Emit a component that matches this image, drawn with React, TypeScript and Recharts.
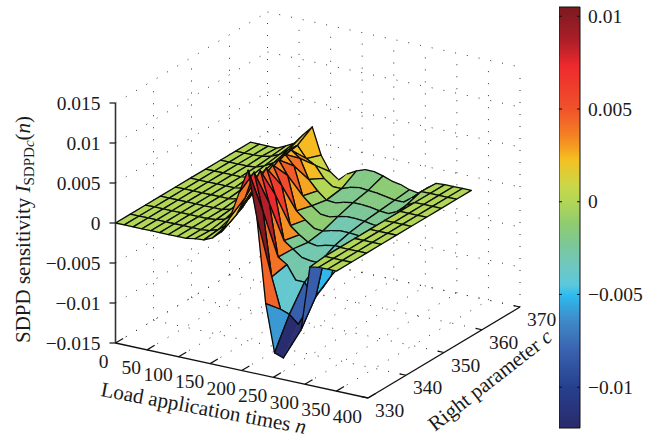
import { Bar, BarChart, Scatter, ScatterChart, XAxis, YAxis } from "recharts";

const FONT = '"Liberation Serif", serif';
const WIDTH = 659;
const HEIGHT = 441;

const nTicks = [0, 50, 100, 150, 200, 250, 300, 350, 400];
const cTicks = [330, 340, 350, 360, 370];
const zTicks = [-0.015, -0.01, -0.005, 0, 0.005, 0.01, 0.015];
const barTicks = [-0.01, -0.005, 0, 0.005, 0.01];

// surface grid, z values below are in units of 1e-4
const nValues = [0, 14, 28, 42, 56, 70, 84, 98, 112, 126, 140, 154, 168, 182, 196, 210, 224, 238, 252, 266, 280, 294, 308, 322, 336, 350];
const cValues = [330, 333.9, 337.9, 341.8, 345.8, 349.7, 353.7, 357.6, 361.6, 365.5];

const row330 = [0, 0, 0, 0, 0, 0, 0, 0, 0, 2, 3, 8, 18, 39, 72, 102, 45, -60, -119, -123, -103, -83, -2, 0, 0, 0];
const row334 = [0, 0, 0, 0, 0, 0, 0, 0, 0, 1, 5, 13, 28, 52, 86, 40, -40, -78, -82, -92, -72, -52, 0, 0, 0, 0];
const row338 = [0, 0, 0, 0, 0, 0, 0, 0, 1, 4, 12, 24, 46, 74, 36, -29, -36, -53, -53, -70, -56, -38, 0, 0, 0, 0];
const row342 = [0, 0, 0, 0, 0, 0, 0, 0, 3, 10, 21, 40, 64, 33, -22, -30, -38, -40, -40, -40, -35, -28, 0, 0, 0, 0];
const row346 = [0, 0, 0, 0, 0, 0, 0, 2, 8, 18, 34, 54, 31, -17, -26, -33, -35, -32, -30, -30, -32, -30, 0, 0, 0, 0];
const row350 = [0, 0, 0, 0, 0, 0, 2, 7, 15, 30, 47, 30, -12, -21, -29, -30, -27, -25, -25, -26, -28, -22, 0, 0, 0, 0];
const row354 = [0, 0, 0, 0, 0, 2, 6, 13, 26, 40, 28, -7, -17, -25, -26, -23, -21, -21, -22, -24, -24, -14, 0, 0, 0, 0];
const row358 = [0, 0, 0, 0, 1, 5, 11, 21, 32, 24, 0, -12, -21, -22, -19, -17, -17, -18, -20, -21, -16, -6, 0, 0, 0, 0];
const row362 = [0, 0, 0, 1, 3, 8, 16, 24, 10, 4, -10, -18, -18, -14, -12, -13, -14, -16, -18, -18, -10, 0, 0, 0, 0, 0];
const row366 = [0, 0, 0, 0, 5, 11, 24, 36, 3, -15, -23, -13, -7, -3, -3, -6, -10, -12, -16, -18, -9, -1, 0, 0, 0, 0];
const zRows = [row330, row334, row338, row342, row346, row350, row354, row358, row362, row366];

// colormap
const barMin = -0.0122;
const barMax = 0.0105;
const colorValues = [-0.0122, -0.01, -0.008, -0.0064, -0.005, -0.0045, -0.0035, -0.0024, -0.00124, 0, 0.0008, 0.0023, 0.003, 0.0037, 0.005, 0.0073, 0.00876, 0.0105];
const colorHex = ["#2a2a6a", "#26408f", "#3a62b0", "#3f8ac8", "#2dbdf0", "#5cc8dc", "#6ec8c0", "#7ac79a", "#8ecb72", "#b2d656", "#c8d84a", "#f5c020", "#f59a22", "#f47d25", "#f0522a", "#ee2a2e", "#aa1e28", "#7a1a20"];

const toRgb = (hex: string) => [1, 3, 5].map((i) => parseInt(hex.slice(i, i + 2), 16));

function colorOf(v: number) {
  if (v <= colorValues[0]) return colorHex[0];
  for (let i = 1; i < colorValues.length; i++) {
    if (v <= colorValues[i]) {
      const t = (v - colorValues[i - 1]) / (colorValues[i] - colorValues[i - 1]);
      const a = toRgb(colorHex[i - 1]);
      const b = toRgb(colorHex[i]);
      return `rgb(${a.map((x, k) => Math.round(x + (b[k] - x) * t)).join(",")})`;
    }
  }
  return colorHex[colorHex.length - 1];
}

// orthographic view of the 3D box, result is in page pixels
function project(n: number, c: number, z: number) {
  return {
    x: 115.5 + n * 0.63125 + (c - 330) * 3.8,
    y: 343 + n * 0.1375 - (c - 330) * 2.275 - (z + 0.015) * 8000,
  };
}

// the valley behind the wall has a coarser mesh in the picture: only every 3rd n line shows
const inValley = (j: number, k: number) => k > 17 - j && k < 21;
const showsLine = (j: number, k: number) => !inValley(j, k) || k % 3 === 0;

// far cells first so nearer ones paint over them
const cells: any[] = [];
for (let j = cValues.length - 2; j >= 0; j--) {
  for (let k = 0; k < nValues.length - 1; k++) {
    const z = (a: number, b: number) => zRows[a][b] * 1e-4;
    const corners = [
      project(nValues[k], cValues[j], z(j, k)),
      project(nValues[k + 1], cValues[j], z(j, k + 1)),
      project(nValues[k + 1], cValues[j + 1], z(j + 1, k + 1)),
      project(nValues[k], cValues[j + 1], z(j + 1, k)),
    ];
    let anchor = k;
    while (!showsLine(j, anchor)) anchor--;
    cells.push({
      ...corners[0],
      corners,
      fill: colorOf(z(j, anchor)),
      left: showsLine(j, k),
      right: showsLine(j, k + 1),
    });
  }
}

const noMark = () => <g />;

function CellShape(props: any) {
  const { cx, cy, payload } = props;
  const [a, b, c, d] = payload.corners.map((p: any) => ({ x: cx + p.x - payload.x, y: cy + p.y - payload.y }));
  const pts = [a, b, c, d].map((p) => `${p.x},${p.y}`).join(" ");
  const edge = (p: Pt, q: Pt) => `M${p.x},${p.y}L${q.x},${q.y}`;
  const path = edge(a, b) + edge(d, c) + (payload.left ? edge(a, d) : "") + (payload.right ? edge(b, c) : "");
  return (
    <g>
      <polygon points={pts} fill={payload.fill} stroke={payload.fill} strokeWidth={0.6} />
      <path d={path} fill="none" stroke="#0a0a0a" strokeWidth={1.3} strokeLinecap="round" />
    </g>
  );
}

function LabelShape(props: any) {
  const { cx, cy, payload } = props;
  return (
    <text x={cx} y={cy} textAnchor={payload.anchor} fontFamily={FONT} fontSize={19.5} fill="#1a1a1a">
      {payload.label}
    </text>
  );
}

const fmt = (v: number) => (v < 0 ? "\u2212" : "") + String(Math.abs(v));

const nLabels = nTicks.map((n) => {
  const p = project(n, 330, -0.015);
  return { x: p.x - (n === 0 ? 7 : 6), y: p.y + 24.5, label: String(n), anchor: "end" };
});
const cLabels = cTicks.map((c) => {
  const p = project(400, c, -0.015);
  return { x: p.x + 7, y: p.y + 19, label: String(c), anchor: "start" };
});
const zLabels = zTicks.map((z) => {
  const p = project(0, 330, z);
  return { x: p.x - 15, y: p.y + 6.5, label: fmt(z), anchor: "end" };
});

type Pt = { x: number; y: number };

const seg = (key: string, a: Pt, b: Pt, stroke: string, strokeWidth: number, strokeDasharray?: string) => (
  <Scatter
    key={key}
    data={[a, b]}
    line={{ stroke, strokeWidth, strokeDasharray }}
    lineJointType="linear"
    shape={noMark}
    isAnimationActive={false}
  />
);

const zLo = zTicks[0];
const zHi = zTicks[zTicks.length - 1];
const nLo = nTicks[0];
const nHi = nTicks[nTicks.length - 1];
const cLo = cTicks[0];
const cHi = cTicks[cTicks.length - 1];
const DOT = "1 11";

const gridLines = [
  ...nTicks.slice(0, -1).map((n) => seg(`fn${n}`, project(n, cLo, zLo), project(n, cHi, zLo), "#333", 1, DOT)),
  ...cTicks.slice(1).map((c) => seg(`fc${c}`, project(nLo, c, zLo), project(nHi, c, zLo), "#333", 1, DOT)),
  ...cTicks.slice(1).map((c) => seg(`lc${c}`, project(nLo, c, zLo), project(nLo, c, zHi), "#333", 1, DOT)),
  ...zTicks.map((z) => seg(`lz${z}`, project(nLo, cLo, z), project(nLo, cHi, z), "#333", 1, DOT)),
  ...nTicks.map((n) => seg(`bn${n}`, project(n, cHi, zLo), project(n, cHi, zHi), "#333", 1, DOT)),
  ...zTicks.map((z) => seg(`bz${z}`, project(nLo, cHi, z), project(nHi, cHi, z), "#333", 1, DOT)),
];

const axisLines = [
  seg("az", project(nLo, cLo, zLo), project(nLo, cLo, zHi), "#333", 1.6),
  seg("an", project(nLo, cLo, zLo), project(nHi, cLo, zLo), "#111", 1.3),
  seg("ac", project(nHi, cLo, zLo), project(nHi, cHi, zLo), "#111", 1.3),
  ...zTicks.map((z) => {
    const p = project(nLo, cLo, z);
    return seg(`tz${z}`, p, { x: p.x - 6, y: p.y }, "#111", 1.2);
  }),
  ...nTicks.map((n) => seg(`tn${n}`, project(n, cLo, zLo), project(n, cLo + 2, zLo), "#111", 1.2)),
  ...cTicks.map((c) => seg(`tc${c}`, project(nHi, c, zLo), project(nHi - 10, c, zLo), "#111", 1.2)),
];

function NTitle(props: any) {
  const { cx, cy } = props;
  return (
    <text transform={`translate(${cx},${cy}) rotate(10.5)`} fontFamily={FONT} fontSize={21} fill="#1a1a1a">
      Load application times <tspan fontStyle="italic">n</tspan>
    </text>
  );
}

function CTitle(props: any) {
  const { cx, cy } = props;
  return (
    <text transform={`translate(${cx},${cy}) rotate(-38)`} fontFamily={FONT} fontSize={21} fill="#1a1a1a">
      Right parameter <tspan fontStyle="italic">c</tspan>
    </text>
  );
}

function ZTitle(props: any) {
  const { cx, cy } = props;
  return (
    <text transform={`translate(${cx},${cy}) rotate(-90)`} fontFamily={FONT} fontSize={21} fill="#1a1a1a">
      SDPD sensitivity <tspan fontStyle="italic">I</tspan>
      <tspan fontSize={15} dy={4}>SDPD</tspan>
      <tspan fontSize={15} fontStyle="italic">c</tspan>
      <tspan dy={-4}>(</tspan>
      <tspan fontStyle="italic">n</tspan>)
    </text>
  );
}

const barData = [{ name: "colorbar", range: [barMin, barMax] }];
const barStops = colorValues.map((v, i) => ({ v, color: colorHex[i] })).reverse();

function BarTick(props: any) {
  const { x, y, payload } = props;
  return (
    <g>
      <line x1={x - 21} x2={x - 18} y1={y} y2={y} stroke="#111" />
      <line x1={x - 3} x2={x} y1={y} y2={y} stroke="#111" />
      <text x={x + 8} y={y + 6.5} fontFamily={FONT} fontSize={19.5} fill="#1a1a1a">
        {fmt(payload.value)}
      </text>
    </g>
  );
}

export default function App() {
  return (
    <div style={{ position: "absolute", left: 0, top: 0, width: WIDTH, height: HEIGHT, background: "#fff" }}>
      <ScatterChart width={WIDTH} height={HEIGHT} margin={{ top: 0, right: 0, bottom: 0, left: 0 }}>
        <XAxis type="number" dataKey="x" domain={[0, WIDTH]} hide />
        <YAxis type="number" dataKey="y" domain={[0, HEIGHT]} reversed hide />
        {gridLines}
        <Scatter data={cells} shape={CellShape} isAnimationActive={false} />
        {axisLines}
        <Scatter data={[...nLabels, ...cLabels, ...zLabels]} shape={LabelShape} isAnimationActive={false} />
        <Scatter data={[{ x: 100, y: 396 }]} shape={NTitle} isAnimationActive={false} />
        <Scatter data={[{ x: 435, y: 432 }]} shape={CTitle} isAnimationActive={false} />
        <Scatter data={[{ x: 30, y: 343 }]} shape={ZTitle} isAnimationActive={false} />
      </ScatterChart>
      <div style={{ position: "absolute", left: 559, top: 0 }}>
        <BarChart width={100} height={HEIGHT} data={barData} margin={{ top: 7, right: 0, bottom: 13, left: 0 }} barCategoryGap={0}>
          <defs>
            <linearGradient id="barGradient" x1="0" y1="0" x2="0" y2="1">
              {barStops.map((s) => (
                <stop key={s.v} offset={(barMax - s.v) / (barMax - barMin)} stopColor={s.color} />
              ))}
            </linearGradient>
          </defs>
          <XAxis dataKey="name" hide />
          <YAxis
            orientation="right"
            width={79}
            domain={[barMin, barMax]}
            ticks={barTicks}
            axisLine={false}
            tickLine={false}
            tickSize={0}
            tickMargin={0}
            tick={BarTick}
            interval={0}
          />
          <Bar dataKey="range" fill="url(#barGradient)" stroke="#111" strokeWidth={1} isAnimationActive={false} />
        </BarChart>
      </div>
    </div>
  );
}
